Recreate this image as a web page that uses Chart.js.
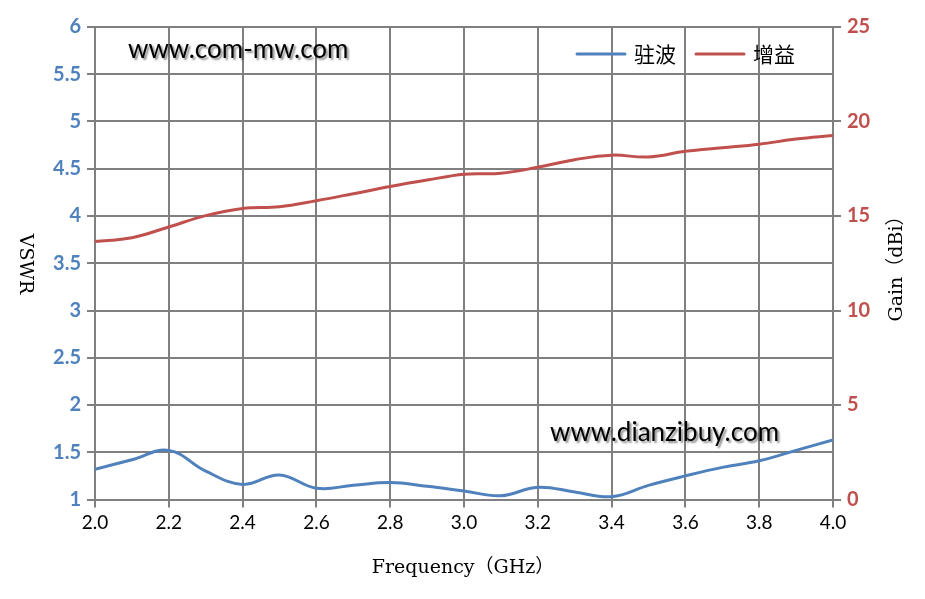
<!DOCTYPE html>
<html>
<head>
<meta charset="utf-8">
<script src="https://cdn.jsdelivr.net/npm/chart.js@4.4.1/dist/chart.umd.min.js"></script>
<style>
html,body{margin:0;padding:0;background:#fff;}
#c{display:block;}
</style>
</head>
<body>
<canvas id="c" width="925" height="599"></canvas>
<script>
const freqs = [2.0,2.1,2.2,2.3,2.4,2.5,2.6,2.7,2.8,2.9,3.0,3.1,3.2,3.3,3.4,3.5,3.6,3.7,3.8,3.9,4.0];
const vswr  = [1.32,1.42,1.52,1.30,1.16,1.26,1.12,1.15,1.18,1.14,1.09,1.04,1.13,1.08,1.03,1.15,1.25,1.34,1.41,1.52,1.63];
const gain  = [13.65,13.85,14.42,15.02,15.40,15.49,15.81,16.18,16.56,16.90,17.21,17.26,17.58,17.98,18.22,18.12,18.42,18.61,18.80,19.07,19.26];
const seriesNames = ['驻波','增益'];
const xTitle = 'Frequency（GHz）';
const yLeftTitle = 'VSWR';
const yRightTitle = 'Gain（dBi）';
const watermarks = ['www.com-mw.com','www.dianzibuy.com'];

const BLUE = '#4F81BD', RED = '#C0504D', GRID = '#808080';
const CA = {left:95, right:833, top:27, bottom:499.5};

const overlay = {
  id:'overlay',
  afterDraw(chart){
    const ctx = chart.ctx;
    ctx.save();
    ctx.fillStyle = '#000';
    ctx.textAlign = 'center';
    ctx.textBaseline = 'middle';
    ctx.font = '19px "DejaVu Serif", "Noto Sans CJK SC", serif';
    ctx.fillText(xTitle, 463, 568);
    ctx.save();
    ctx.translate(25, 264);
    ctx.rotate(Math.PI/2);
    ctx.fillText(yLeftTitle, 0, 0);
    ctx.restore();
    ctx.save();
    ctx.translate(897, 264);
    ctx.rotate(-Math.PI/2);
    ctx.fillText(yRightTitle, 0, 0);
    ctx.restore();

    // legend (from dataset labels/colours)
    ctx.font = '21px "Noto Sans CJK SC", sans-serif';
    ctx.textAlign = 'left';
    let lx = 577;
    chart.data.datasets.forEach(ds => {
      ctx.strokeStyle = ds.borderColor;
      ctx.lineWidth = 3;
      ctx.lineCap = 'round';
      ctx.beginPath(); ctx.moveTo(lx, 54); ctx.lineTo(lx + 48, 54); ctx.stroke();
      ctx.fillStyle = '#000';
      ctx.fillText(ds.label, lx + 57, 54);
      lx += 57 + ctx.measureText(ds.label).width + 20;
    });

    ctx.font = '26px Lato, "Open Sans", sans-serif';
    ctx.shadowColor = 'rgba(0,0,0,0.45)';
    ctx.shadowOffsetX = 2; ctx.shadowOffsetY = 2; ctx.shadowBlur = 2;
    ctx.fillStyle = '#000';
    ctx.fillText(watermarks[0], 128, 50);
    ctx.fillText(watermarks[1], 550, 433);
    ctx.restore();
  }
};

new Chart(document.getElementById('c'), {
  type:'line',
  data:{
    datasets:[
      {label:seriesNames[0], data:freqs.map((f,i)=>({x:f,y:vswr[i]})), yAxisID:'y',
       borderColor:BLUE, backgroundColor:BLUE, borderWidth:3, pointRadius:0, tension:0.4, fill:false},
      {label:seriesNames[1], data:freqs.map((f,i)=>({x:f,y:gain[i]})), yAxisID:'y1',
       borderColor:RED, backgroundColor:RED, borderWidth:3, pointRadius:0, tension:0.4, fill:false}
    ]
  },
  options:{
    responsive:false,
    animation:false,
    devicePixelRatio:1,
    layout:{padding:{top:CA.top, left:0, right:0, bottom:0}},
    plugins:{
      legend:{display:false},
      tooltip:{enabled:false}
    },
    scales:{
      x:{type:'linear', min:2, max:4,
        ticks:{stepSize:0.2, color:'#000', padding:4, font:{family:'Lato, sans-serif', size:19},
          callback:v=>Number(v).toFixed(1)},
        grid:{color:GRID, lineWidth:2, tickLength:8},
        border:{color:GRID, width:2},
        afterFit(s){ s.height = 599 - CA.bottom; }
      },
      y:{type:'linear', position:'left', min:1, max:6,
        ticks:{stepSize:0.5, color:BLUE, padding:6, font:{family:'Lato, sans-serif', size:20, weight:'bold'},
          callback:v=>String(Math.round(v*10)/10)},
        grid:{color:GRID, lineWidth:2, tickLength:8},
        border:{color:GRID, width:2},
        afterFit(s){ s.width = CA.left; }
      },
      y1:{type:'linear', position:'right', min:0, max:25,
        ticks:{stepSize:5, color:RED, padding:6, font:{family:'Lato, sans-serif', size:20, weight:'bold'}},
        grid:{drawOnChartArea:false, color:GRID, lineWidth:2, tickLength:8},
        border:{color:GRID, width:2},
        afterFit(s){ s.width = 925 - CA.right; }
      }
    }
  },
  plugins:[overlay]
});
</script>
</body>
</html>
